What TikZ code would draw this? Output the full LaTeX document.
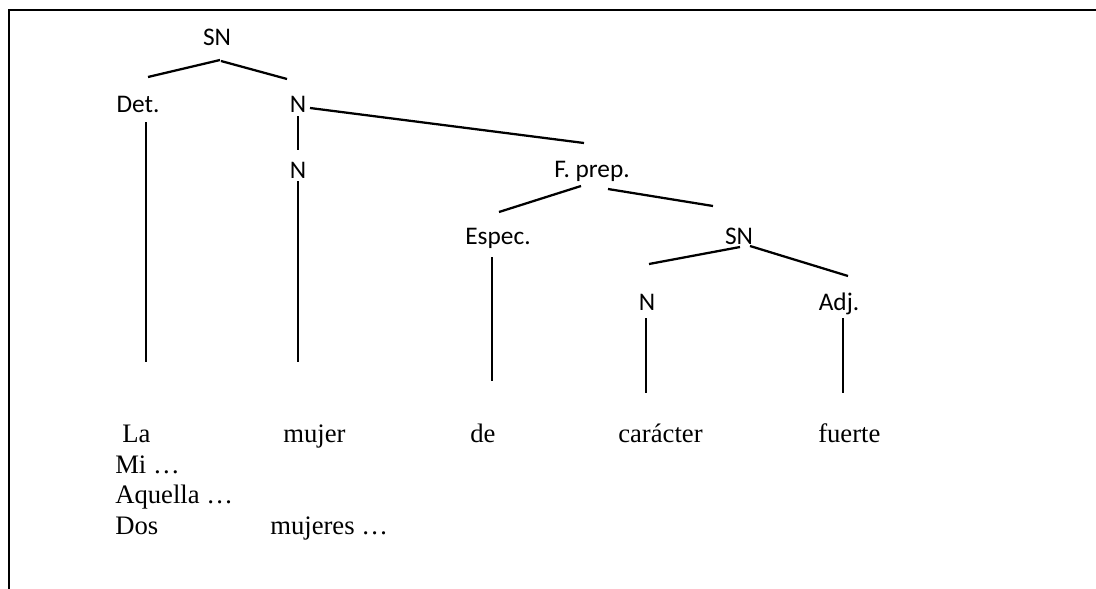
\documentclass[tikz,border=0pt]{standalone}
\usepackage{fontspec}
\setmainfont{Liberation Serif}
\newfontfamily\catfont{Carlito}

\begin{document}
\begin{tikzpicture}[x=0.75pt,y=-0.75pt,
    cat/.style={font=\catfont\fontsize{19}{23}\selectfont, inner sep=0pt, anchor=base},
    word/.style={font=\fontsize{20}{23}\selectfont, inner sep=0pt, anchor=base west},
    branch/.style={line width=1.7pt}]
  \fill[white] (0,0) rectangle (1096,589);
  % page frame, top and left only
  \fill (8.3,9.3) rectangle (1096,10.7);
  \fill (8.3,9.3) rectangle (9.7,589);

  % categories
  \node[cat] (sn)    at (217,45)  {SN};
  \node[cat] (det)   at (138,112) {Det.};
  \node[cat] (n1)    at (298,112) {N};
  \node[cat] (n2)    at (298,178) {N};
  \node[cat] (fprep) at (592,177) {F. prep.};
  \node[cat] (espec) at (498,244) {Espec.};
  \node[cat] (sn2)   at (739,244) {SN};
  \node[cat] (n3)    at (647,310) {N};
  \node[cat] (adj)   at (839,310) {Adj.};

  % words
  \node[word] (la)       at (122,442) {La};
  \node[word] (mujer)    at (283,442) {mujer};
  \node[word] (de)       at (470,442) {de};
  \node[word] (caracter) at (618,442) {carácter};
  \node[word] (fuerte)   at (818,442) {fuerte};
  \node[word] (mi)       at (115,473) {Mi …};
  \node[word] (aquella)  at (115,503) {Aquella …};
  \node[word] (dos)      at (115,534) {Dos};
  \node[word] (mujeres)  at (270,534) {mujeres …};

  % free ends of the vertical branches
  \coordinate (det-end)   at (146,362);
  \coordinate (n2-end)    at (298,362);
  \coordinate (espec-end) at (492,381);
  \coordinate (n3-end)    at (646,393);
  \coordinate (adj-end)   at (843,393);

  % branches
  \draw[branch] ([shift={(3,15)}]sn.base) -- ([shift={(10,-35)}]det.base);
  \draw[branch] ([shift={(4,16)}]sn.base) -- ([shift={(-11,-33)}]n1.base);
  \draw[branch] ([shift={(12,-4)}]n1.base) -- ([shift={(-8,-34)}]fprep.base);
  \draw[branch] ([shift={(-11,9)}]fprep.base) -- ([shift={(1,-32)}]espec.base);
  \draw[branch] ([shift={(16,12)}]fprep.base) -- ([shift={(-26,-38)}]sn2.base);
  \draw[branch] ([shift={(1,3)}]sn2.base) -- ([shift={(2,-46)}]n3.base);
  \draw[branch] ([shift={(11,2)}]sn2.base) -- ([shift={(9,-34)}]adj.base);

  \draw[branch] ([shift={(8,10)}]det.base) -- (det-end);
  \draw[branch] ([shift={(0,4)}]n1.base) -- ([shift={(0,-28)}]n2.base);
  \draw[branch] ([shift={(0,3)}]n2.base) -- (n2-end);
  \draw[branch] ([shift={(-6,13)}]espec.base) -- (espec-end);
  \draw[branch] ([shift={(-1,8)}]n3.base) -- (n3-end);
  \draw[branch] ([shift={(4,8)}]adj.base) -- (adj-end);
\end{tikzpicture}
\end{document}
